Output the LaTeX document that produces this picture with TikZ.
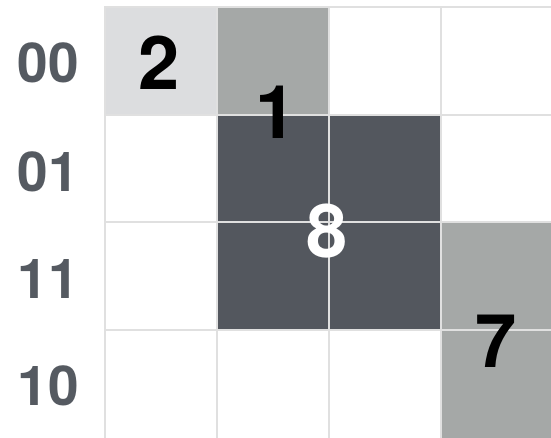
\documentclass[tikz,border=0pt]{standalone}
\usepackage{fontspec}
\setmainfont{TeX Gyre Heros}
\definecolor{kmaplight}{HTML}{DCDDDF}
\definecolor{kmapmid}{HTML}{A5A8A7}
\definecolor{kmapdark}{HTML}{53575E}
\definecolor{kmapgrid}{HTML}{E0E0E0}
\definecolor{kmaplabel}{HTML}{555A61}
\begin{document}
\begin{tikzpicture}[x=1pt,y=-1pt,
  rowlbl/.style={font=\fontsize{55}{55}\selectfont\bfseries,text=kmaplabel},
  count/.style={font=\fontsize{74}{74}\selectfont\bfseries}]
\useasboundingbox (0,0) rectangle (551,437);
\fill[kmaplight] (105,8) rectangle (217,115);
\fill[kmapmid] (217,8) rectangle (329,115);
\fill[kmapdark] (217,115) rectangle (441,330);
\fill[kmapmid] (441,222) rectangle (553,438);
\foreach \x in {105,217,329,441}
  \draw[kmapgrid,line width=1.5pt] (\x,7) -- (\x,438);
\foreach \y in {7,115,222,330}
  \draw[kmapgrid,line width=1.5pt] (104,\y) -- (553,\y);
\foreach \lab/\y [count=\i] in {00/63,01/172,11/279,10/386}
  \node[rowlbl] (row\i) at (48,\y) {\lab};
\node[count] (grp2) at (159,63) {2};
\node[count] (grp1) at (276,112) {1};
\node[count,text=white] (grp8) at (327,231) {8};
\node[count] (grp7) at (496,341) {7};
\end{tikzpicture}
\end{document}
